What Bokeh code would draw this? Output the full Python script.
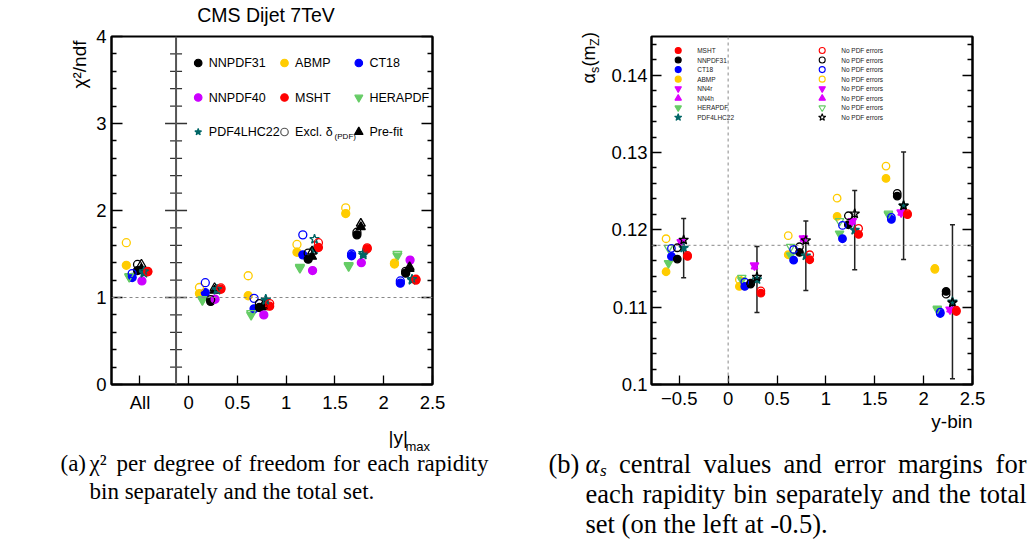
import math
from bokeh.plotting import figure
from bokeh.layouts import row
from bokeh.models import (Range1d, LinearAxis, FixedTicker, Span, Whisker,
                          TeeHead, ColumnDataSource)
from bokeh.core.properties import value
from bokeh.embed import file_html
from bokeh.resources import INLINE

# ===================== DATA =====================
# bin centres; the "All" (total set) point is drawn at -0.5
bins = [-0.5, 0.25, 0.75, 1.25, 1.75, 2.25]

# ---- (a) chi2 / ndf ----
chi2_nnpdf31          = [1.31, 0.955, 0.885, 1.44, 1.72, 1.28]
chi2_nnpdf31_excl     = [1.38, 0.975, 0.93, 1.51, 1.75, 1.30]
chi2_prefit           = [1.33, 1.08, 0.89, 1.47, 1.81, 1.33]
chi2_prefit_excl      = [1.38, 1.11, 0.91, 1.53, 1.85, 1.35]
chi2_abmp             = [1.37, 1.045, 1.02, 1.52, 1.965, 1.385]
chi2_abmp_excl        = [1.63, 1.115, 1.25, 1.61, 2.03, 1.395]
chi2_ct18             = [1.23, 1.055, 0.87, 1.49, 1.48, 1.165]
chi2_ct18_excl        = [1.275, 1.17, 0.99, 1.72, 1.50, 1.19]
chi2_nnpdf40          = [1.19, 0.98, 0.80, 1.31, 1.40, 1.43]
chi2_msht             = [1.295, 1.095, 0.90, 1.575, 1.56, 1.20]
chi2_msht_excl        = [1.30, 1.11, 0.93, 1.63, 1.57, 1.21]
chi2_herapdf          = [1.235, 0.97, 0.80, 1.34, 1.36, 1.48]
chi2_herapdf_excl     = [1.245, 0.98, 0.82, 1.35, 1.37, 1.50]
chi2_pdf4lhc          = [1.28, 1.085, 0.98, 1.55, 1.49, 1.20]
chi2_pdf4lhc_excl     = [1.30, 1.095, 0.97, 1.67, 1.51, 1.21]

# ---- (b) alpha_s(mZ) ----
as_msht          = [0.11656, 0.11181, 0.11613, 0.11940, 0.12196, 0.10944]
as_msht_nopdf    = [0.11670, 0.11210, 0.11678, 0.12018, 0.12210, 0.10960]
as_nnpdf31       = [0.11622, 0.11298, 0.11708, 0.12066, 0.12436, 0.11203]
as_nnpdf31_nopdf = [0.11768, 0.11310, 0.11781, 0.12182, 0.12471, 0.11168]
as_ct18          = [0.11656, 0.11268, 0.11608, 0.11885, 0.12135, 0.10918]
as_ct18_nopdf    = [0.11760, 0.11324, 0.11746, 0.12057, 0.12160, 0.10935]
as_abmp          = [0.11458, 0.11268, 0.11678, 0.12173, 0.12665, 0.11500]
as_abmp_nopdf    = [0.11885, 0.11355, 0.11924, 0.12410, 0.12824, 0.11490]
as_nn4r          = [0.11840, 0.11540, 0.11889, 0.12113, 0.12225, 0.10970]
as_nn4h          = [0.11830, 0.11520, 0.11880, 0.12100, 0.12215, 0.10965]
as_herapdf       = [0.11569, 0.11350, 0.11670, 0.11950, 0.12196, 0.10970]
as_herapdf_nopdf = [0.11768, 0.11380, 0.11780, 0.12113, 0.12210, 0.10980]
as_pdf4lhc       = [0.11765, 0.11358, 0.11665, 0.11997, 0.12311, 0.11070]
as_pdf4lhc_err   = [0.00383, 0.00427, 0.00449, 0.00513, 0.00694, 0.00996]
as_pdf4lhc_nopdf = [0.11870, 0.11390, 0.11863, 0.12208, 0.12312, 0.11057]
as_reference     = 0.118

# ---- ticks ----
chi2_xticks = [-0.5, 0, 0.5, 1, 1.5, 2, 2.5]
chi2_xtick_labels = ["All", "0", "0.5", "1", "1.5", "2", "2.5"]
chi2_yticks = [0, 1, 2, 3, 4]
chi2_ytick_labels = ["0", "1", "2", "3", "4"]
as_xticks = [-0.5, 0, 0.5, 1, 1.5, 2, 2.5]
as_xtick_labels = ["\u22120.5", "0", "0.5", "1", "1.5", "2", "2.5"]
as_yticks = [0.10, 0.11, 0.12, 0.13, 0.14]
as_ytick_labels = ["0.1", "0.11", "0.12", "0.13", "0.14"]

# ---- legends ----
leg_a_labels = ["NNPDF31", "ABMP", "CT18", "NNPDF40", "MSHT", "HERAPDF",
                "PDF4LHC22", "Excl. \u03b4", "Pre-fit"]
leg_b_labels = ["MSHT", "NNPDF31", "CT18", "ABMP", "NN4r", "NN4h", "HERAPDF", "PDF4LHC22"]

# ---- captions (justified lines are split into words) ----
cap_a_line1 = ["\u03c7\u00b2", "per", "degree", "of", "freedom", "for", "each", "rapidity"]
cap_a_line2 = "bin separately and the total set."
cap_b_line1 = ["\u03b1_s", "central", "values", "and", "error", "margins", "for"]
cap_b_line2 = ["each", "rapidity", "bin", "separately", "and", "the", "total"]
cap_b_line3 = "set (on the left at -0.5)."

# ===================== STYLE =====================
SANS = "Liberation Sans"
SERIF = "Liberation Serif"
RED, BLACK, BLUE, YELLOW = "#ff0000", "#000000", "#0000ff", "#ffcc00"
PURPLE, MAGENTA, GREEN, TEAL = "#cc00ff", "#dd00ff", "#66cc66", "#006666"
H = 542
TOP, BOTTOM = 36, 158


def make_fig(width, xr, yr, bl, br):
    p = figure(width=width, height=H, x_range=Range1d(*xr), y_range=Range1d(*yr),
               output_backend="svg", toolbar_location=None,
               min_border_left=bl, min_border_right=br, min_border_top=TOP,
               min_border_bottom=BOTTOM)
    p.grid.grid_line_color = None
    p.outline_line_color = "black"
    p.outline_line_width = 2
    p.background_fill_color = "white"
    p.border_fill_color = "white"
    # a pixel ("canvas") coordinate system used for annotations outside the data
    p.extra_x_ranges = {"cv": Range1d(bl, width - br)}
    p.extra_y_ranges = {"cv": Range1d(H - BOTTOM, TOP)}
    return p


def style_axis(ax, ticks, labels, minor, major_len, minor_len, standoff, show=True):
    ax.ticker = FixedTicker(ticks=ticks, minor_ticks=minor)
    ax.major_label_overrides = {t: (l if show else "") for t, l in zip(ticks, labels)}
    ax.axis_line_width = 2
    ax.axis_line_color = "black"
    ax.major_tick_in = major_len
    ax.major_tick_out = 0
    ax.minor_tick_in = minor_len
    ax.minor_tick_out = 0
    ax.major_tick_line_width = 1.3
    ax.minor_tick_line_width = 1.3
    if not minor:
        ax.minor_tick_line_color = None
    ax.major_label_text_font = SANS
    ax.major_label_text_font_size = "18.5px"
    ax.major_label_text_color = "black"
    ax.major_label_standoff = standoff


def txt(p, x, y, text, size, font=SANS, align="left", baseline="middle",
        angle=0.0, style="normal"):
    p.text(x=[x], y=[y], text=[text], x_range_name="cv", y_range_name="cv",
           level="overlay", text_font=value(font), text_font_size=value(size),
           text_align=align, text_baseline=baseline, angle=angle,
           text_font_style=style, text_color="black")


# approximate advance widths (em) of the serif caption font
_TW = {' ': .25, '(': .333, ')': .333, '.': .25, '-': .333, '0': .5, '5': .5, 'a': .444,
       'b': .5, 'c': .444, 'd': .5, 'e': .444, 'f': .333, 'g': .5, 'h': .5, 'i': .278,
       'l': .278, 'm': .778, 'n': .5, 'o': .5, 'p': .5, 'r': .333, 's': .389, 't': .278,
       'u': .5, 'v': .5, 'y': .5, '\u03c7': .55, '\u00b2': .3}


def word_w(w, size):
    if w == "\u03b1_s":
        return (0.55 + 0.39 * 0.65) * size
    return sum(_TW.get(c, .5) for c in w) * size


def justified(p, words, x0, x1, y, size, ox):
    fs = "%gpx" % size
    widths = [word_w(w, size) for w in words]
    gap = (x1 - x0 - sum(widths)) / (len(words) - 1)
    x = x0
    for i, (w, wd) in enumerate(zip(words, widths)):
        if w == "\u03b1_s":
            txt(p, x - ox, y, "\u03b1", fs, font=SERIF, style="italic")
            txt(p, x - ox + 0.55 * size, y + 0.28 * size, "s", "%gpx" % (size * 0.65),
                font=SERIF, style="italic")
        elif i == len(words) - 1:
            txt(p, x1 - ox, y, w, fs, font=SERIF, align="right")
        else:
            txt(p, x - ox, y, w, fs, font=SERIF)
        x += wd + gap


def series(p, ys, off, marker, color, size, hollow=False, lw=1.3):
    xs = [b + off for b in bins]
    p.scatter(xs, ys, marker=marker, size=size, line_color=color,
              fill_color=None if hollow else color, line_width=lw)


# ===================== (a) chi2/ndf =====================
p1 = make_fig(514, (-0.792, 2.5), (0, 4), 111, 82)
style_axis(p1.xaxis[0], chi2_xticks, chi2_xtick_labels, [], 9, 0, 7)
ymin_a = [k * 0.2 for k in range(1, 20) if k % 5]
style_axis(p1.yaxis[0], chi2_yticks, chi2_ytick_labels, ymin_a, 11, 5, 5)
ax_r = LinearAxis()
style_axis(ax_r, chi2_yticks, chi2_ytick_labels, ymin_a, 11, 5, 2, show=False)
p1.add_layout(ax_r, "right")

p1.add_layout(Span(location=1, dimension="width", line_color="#888888",
                   line_dash="3 3", line_width=1))
DIV_X = -0.13
p1.add_layout(Span(location=DIV_X, dimension="height", line_color="#555555", line_width=2))
p1.scatter([DIV_X] * 3, [1, 2, 3], marker="dash", size=22, line_color="#333333", line_width=1.5)
p1.scatter([DIV_X] * len(ymin_a), ymin_a, marker="dash", size=12,
           line_color="#333333", line_width=1.3)

OA = dict(ABMP=-0.14, HERA=-0.11, CT18=-0.08, NN31=-0.025, PRE=0.015,
          NN40=0.02, P4L=0.04, MSHT=0.08)
series(p1, chi2_abmp, OA["ABMP"], "circle", YELLOW, 8)
series(p1, chi2_herapdf, OA["HERA"], "inverted_triangle", GREEN, 9)
series(p1, chi2_ct18, OA["CT18"], "circle", BLUE, 8)
series(p1, chi2_nnpdf31, OA["NN31"], "circle", BLACK, 8)
series(p1, chi2_nnpdf40, OA["NN40"], "circle", PURPLE, 8)
series(p1, chi2_prefit, OA["PRE"], "triangle", BLACK, 9)
series(p1, chi2_pdf4lhc, OA["P4L"], "star", TEAL, 10)
series(p1, chi2_msht, OA["MSHT"], "circle", RED, 8)
series(p1, chi2_abmp_excl, OA["ABMP"], "circle", YELLOW, 8, hollow=True)
series(p1, chi2_herapdf_excl, OA["HERA"], "inverted_triangle", GREEN, 9, hollow=True)
series(p1, chi2_ct18_excl, OA["CT18"], "circle", BLUE, 8, hollow=True)
series(p1, chi2_nnpdf31_excl, OA["NN31"], "circle", BLACK, 8, hollow=True)
series(p1, chi2_prefit_excl, OA["PRE"], "triangle", BLACK, 9, hollow=True)
series(p1, chi2_pdf4lhc_excl, OA["P4L"], "star", TEAL, 10, hollow=True)
series(p1, chi2_msht_excl, OA["MSHT"], "circle", RED, 8, hollow=True)

# legend (a): 3 x 3 grid (canvas pixel coordinates)
la_marker = ["circle", "circle", "circle", "circle", "circle", "inverted_triangle",
             "star", "circle", "triangle"]
la_color = [BLACK, YELLOW, BLUE, PURPLE, RED, GREEN, TEAL, "#555555", BLACK]
la_fill = [1, 1, 1, 1, 1, 1, 1, 0, 1]
la_size = [7.5, 7.5, 7.5, 7.5, 7.5, 8, 7, 7.5, 8.5]
LA_COLX = [197.7, 284.0, 358.3]
LA_Y0, LA_DY, LA_TXT = 62.5, 34.5, 10.6
la_x = [LA_COLX[i % 3] for i in range(len(leg_a_labels))]
la_y = [LA_Y0 + LA_DY * (i // 3) for i in range(len(leg_a_labels))]
p1.scatter(x="x", y="y", marker="m", size="s", line_color="c", fill_color="c",
           fill_alpha="f", line_width=1.2, x_range_name="cv", y_range_name="cv",
           source=ColumnDataSource(dict(x=la_x, y=la_y, m=la_marker, c=la_color,
                                        f=la_fill, s=la_size)))
p1.text(x=[x + LA_TXT for x in la_x], y=la_y, text=leg_a_labels,
        x_range_name="cv", y_range_name="cv", text_font=value(SANS),
        text_font_size=value("12.5px"), text_baseline="middle", text_align="left",
        text_color="black")
txt(p1, la_x[7] + LA_TXT + 39.5, la_y[7] + 4, "(PDF)", "8px")

txt(p1, 265.5, 14, "CMS Dijet 7TeV", "19.5px", align="center")
txt(p1, 79, 40, "\u03c7\u00b2/ndf", "19px", align="right", angle=math.pi / 2)
txt(p1, 388, 437, "|y|", "19px")
txt(p1, 405, 446, "max", "13px")

CAP_A = 23
txt(p1, 60, 463, "(a)", "%gpx" % CAP_A, font=SERIF)
justified(p1, cap_a_line1, 89, 488, 463, CAP_A, 0)
txt(p1, 89, 491, cap_a_line2, "%gpx" % CAP_A, font=SERIF)

# ===================== (b) alpha_s =====================
p2 = make_fig(515, (-0.784, 2.5), (0.1, 0.145), 137, 57)
style_axis(p2.xaxis[0], as_xticks, as_xtick_labels, [], 9, 0, 7)
ymin_b = [0.1 + k * 0.002 for k in range(1, 23) if k % 5]
style_axis(p2.yaxis[0], as_yticks, as_ytick_labels, ymin_b, 10, 5, 4)
bx_r = LinearAxis()
style_axis(bx_r, as_yticks, as_ytick_labels, ymin_b, 10, 5, 2, show=False)
p2.add_layout(bx_r, "right")

p2.add_layout(Span(location=as_reference, dimension="width", line_color="#888888",
                   line_dash="3 3", line_width=1))
p2.add_layout(Span(location=0, dimension="height", line_color="#888888",
                   line_dash="3 3", line_width=1))

OB = dict(ABMP=-0.135, HERA=-0.11, CT18=-0.08, NN31=-0.02, NN4=0.02, P4L=0.045, MSHT=0.085)
err_src = ColumnDataSource(dict(
    x=[b + OB["P4L"] for b in bins],
    lo=[c - e for c, e in zip(as_pdf4lhc, as_pdf4lhc_err)],
    hi=[c + e for c, e in zip(as_pdf4lhc, as_pdf4lhc_err)]))
p2.add_layout(Whisker(source=err_src, base="x", lower="lo", upper="hi",
                      line_color="#222222", line_width=1.5,
                      upper_head=TeeHead(size=5, line_color="#222222", line_width=1.5),
                      lower_head=TeeHead(size=5, line_color="#222222", line_width=1.5)))

series(p2, as_abmp, OB["ABMP"], "circle", YELLOW, 7.5)
series(p2, as_herapdf, OB["HERA"], "inverted_triangle", GREEN, 8.5)
series(p2, as_ct18, OB["CT18"], "circle", BLUE, 7.5)
series(p2, as_nnpdf31, OB["NN31"], "circle", BLACK, 7.5)
series(p2, as_nn4h, OB["NN4"], "triangle", MAGENTA, 6.5)
series(p2, as_nn4r, OB["NN4"], "inverted_triangle", MAGENTA, 8.5)
series(p2, as_pdf4lhc, OB["P4L"], "star", TEAL, 10)
series(p2, as_msht, OB["MSHT"], "circle", RED, 7.5)
series(p2, as_abmp_nopdf, OB["ABMP"], "circle", YELLOW, 7.5, hollow=True)
series(p2, as_herapdf_nopdf, OB["HERA"], "inverted_triangle", GREEN, 8.5, hollow=True)
series(p2, as_ct18_nopdf, OB["CT18"], "circle", BLUE, 7.5, hollow=True)
series(p2, as_nnpdf31_nopdf, OB["NN31"], "circle", BLACK, 7.5, hollow=True)
series(p2, as_pdf4lhc_nopdf, OB["P4L"], "star", BLACK, 10, hollow=True)
series(p2, as_msht_nopdf, OB["MSHT"], "circle", RED, 7.5, hollow=True)

# legend (b): two columns of 8 rows (canvas pixel coordinates)
OX = 514
lb_marker = ["circle", "circle", "circle", "circle", "inverted_triangle", "triangle",
             "inverted_triangle", "star"]
lb_color = [RED, BLACK, BLUE, YELLOW, MAGENTA, MAGENTA, GREEN, TEAL]
lb_col2_color = [RED, BLACK, BLUE, YELLOW, MAGENTA, MAGENTA, GREEN, BLACK]
lb_col2_fill = [0, 0, 0, 0, 1, 1, 0, 0]
LB_COLX = [677.7 - OX, 821.7 - OX]
LB_Y0, LB_DY, LB_TXT = 50.0, 9.55, 19.0
n = len(leg_b_labels)
lb_x = [LB_COLX[0]] * n + [LB_COLX[1]] * n
lb_y = [LB_Y0 + LB_DY * i for i in range(n)] * 2
lb_sz = [6 if m == "circle" else (7.5 if m == "star" else 6.5) for m in lb_marker]
p2.scatter(x="x", y="y", marker="m", size="s", line_color="c", fill_color="c",
           fill_alpha="f", line_width=1.1, x_range_name="cv", y_range_name="cv",
           source=ColumnDataSource(dict(x=lb_x, y=lb_y, m=lb_marker * 2,
                                        c=lb_color + lb_col2_color,
                                        f=[1] * n + lb_col2_fill, s=lb_sz * 2)))
p2.text(x=[x + LB_TXT for x in lb_x], y=lb_y,
        text=leg_b_labels + ["No PDF errors"] * n,
        x_range_name="cv", y_range_name="cv", text_font=value(SANS),
        text_font_size=value("6.5px"), text_baseline="middle", text_align="left",
        text_color="#222222")

txt(p2, 588 - OX, 83, "\u03b1", "18px", angle=math.pi / 2)
txt(p2, 594 - OX, 72.5, "s", "12.5px", angle=math.pi / 2)
txt(p2, 588 - OX, 66, "(m", "18px", angle=math.pi / 2)
txt(p2, 594 - OX, 45.5, "Z", "12.5px", angle=math.pi / 2)
txt(p2, 588 - OX, 37.5, ")", "18px", angle=math.pi / 2)
txt(p2, 972 - OX, 421, "y-bin", "19px", align="right")

CAP_B = 26.5
txt(p2, 548 - OX, 463, "(b)", "%gpx" % CAP_B, font=SERIF)
justified(p2, cap_b_line1, 585, 1026, 463, CAP_B, OX)
justified(p2, cap_b_line2, 585, 1026, 493, CAP_B, OX)
txt(p2, 585 - OX, 523, cap_b_line3, "%gpx" % CAP_B, font=SERIF)

layout = row(p1, p2)
with open("out.html", "w") as f:
    f.write(file_html(layout, INLINE))
